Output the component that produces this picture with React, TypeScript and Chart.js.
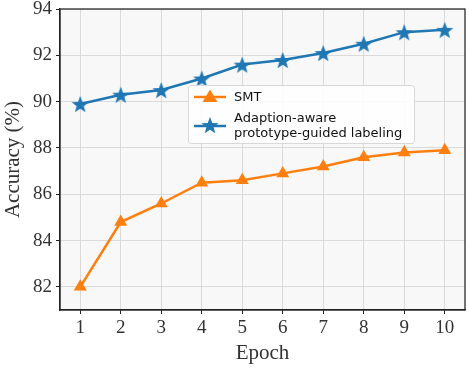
import React, { useEffect, useRef } from "react";
import { Chart, registerables } from "chart.js";

Chart.register(...registerables);

const epochs = ["1", "2", "3", "4", "5", "6", "7", "8", "9", "10"];
const smtValues = [82.0, 84.8, 85.6, 86.5, 86.6, 86.9, 87.2, 87.6, 87.8, 87.9];
const aaplValues = [89.9, 90.3, 90.5, 91.0, 91.6, 91.8, 92.1, 92.5, 93.0, 93.1];
const yTicks = [82, 84, 86, 88, 90, 92, 94];
const seriesNames = ["SMT", "Adaption-aware\nprototype-guided labeling"];

const ORANGE = "#ff7f0e";
const BLUE = "#1f77b4";
const SERIF = "'Liberation Serif', 'Times New Roman', serif";
const SANS = "'DejaVu Sans', sans-serif";

function starPath(cx: number, cy: number, ro: number, ri: number) {
  const pts: string[] = [];
  for (let i = 0; i < 10; i++) {
    const r = i % 2 === 0 ? ro : ri;
    const a = -Math.PI / 2 + (i * Math.PI) / 5;
    pts.push(`${(cx + r * Math.cos(a)).toFixed(2)},${(cy + r * Math.sin(a)).toFixed(2)}`);
  }
  return pts.join(" ");
}

function makeStar(size: number, color: string) {
  const c = document.createElement("canvas");
  c.width = size;
  c.height = size;
  const ctx = c.getContext("2d")!;
  const ro = size / 2;
  const ri = ro * 0.42;
  ctx.beginPath();
  for (let i = 0; i < 10; i++) {
    const r = i % 2 === 0 ? ro : ri;
    const a = -Math.PI / 2 + (i * Math.PI) / 5;
    const x = ro + r * Math.cos(a);
    const y = ro + 1 + r * Math.sin(a);
    if (i === 0) ctx.moveTo(x, y);
    else ctx.lineTo(x, y);
  }
  ctx.closePath();
  ctx.fillStyle = color;
  ctx.fill();
  return c;
}

const framePlugin = {
  id: "frame",
  beforeDraw(chart: any) {
    const { ctx, chartArea: a } = chart;
    ctx.save();
    ctx.fillStyle = "#f8f8f8";
    ctx.fillRect(a.left, a.top, a.right - a.left, a.bottom - a.top);
    ctx.restore();
  },
  afterDraw(chart: any) {
    const { ctx, chartArea: a } = chart;
    ctx.save();
    ctx.strokeStyle = "#222";
    ctx.lineWidth = 1.25;
    ctx.strokeRect(a.left, a.top, a.right - a.left, a.bottom - a.top);
    ctx.restore();
  },
};

function zeroPad(scale: any) {
  scale.paddingLeft = 0;
  scale.paddingRight = 0;
  scale.paddingTop = 0;
  scale.paddingBottom = 0;
}

const gridOpts = {
  color: "#d6d6d6",
  lineWidth: 0.9,
  borderDash: [3.5, 2],
  tickColor: "#222",
  tickLength: 4,
  tickWidth: 1,
  tickBorderDash: [],
};

export default function App() {
  const ref = useRef<HTMLCanvasElement>(null);

  useEffect(() => {
    const star = makeStar(18, BLUE);
    const chart = new Chart(ref.current!, {
      type: "line",
      data: {
        labels: epochs,
        datasets: [
          {
            label: "SMT",
            data: smtValues,
            borderColor: ORANGE,
            backgroundColor: ORANGE,
            borderWidth: 2.5,
            pointStyle: "triangle",
            pointRadius: 7.5,
            pointBorderWidth: 0,
            pointBackgroundColor: ORANGE,
          },
          {
            label: "Adaption-aware prototype-guided labeling",
            data: aaplValues,
            borderColor: BLUE,
            backgroundColor: BLUE,
            borderWidth: 2.5,
            pointStyle: star as any,
            pointRadius: 9,
          },
        ],
      },
      options: {
        animation: false,
        responsive: false,
        maintainAspectRatio: false,
        layout: { autoPadding: false, padding: { top: 9, right: 4, left: 0, bottom: 0 } },
        plugins: { legend: { display: false }, tooltip: { enabled: false } },
        scales: {
          x: {
            type: "category",
            offset: true,
            grid: { ...gridOpts, offset: false } as any,
            border: { color: "#222", width: 1.25 },
            ticks: { color: "#333", font: { family: SERIF, size: 19 }, padding: 3, maxRotation: 0 },
            title: {
              display: true,
              text: "Epoch",
              color: "#333",
              font: { family: SERIF, size: 21 },
              padding: { top: 0, bottom: 1 },
            },
            afterFit(scale: any) {
              scale.height = 57;
              zeroPad(scale);
            },
          },
          y: {
            type: "linear",
            min: 81,
            max: 94,
            afterBuildTicks(scale: any) {
              scale.ticks = yTicks.map((v) => ({ value: v }));
            },
            grid: { ...gridOpts } as any,
            border: { color: "#222", width: 1.25 },
            ticks: { color: "#333", font: { family: SERIF, size: 19 }, padding: 4 },
            title: {
              display: true,
              text: "Accuracy (%)",
              color: "#333",
              font: { family: SERIF, size: 21 },
              padding: { top: 1, bottom: 0 },
            },
            afterFit(scale: any) {
              scale.width = 60;
              zeroPad(scale);
            },
          },
        },
      },
      plugins: [framePlugin],
    });
    return () => chart.destroy();
  }, []);

  const lines = seriesNames[1].split("\n");

  return (
    <div style={{ position: "absolute", left: 0, top: 0, width: 469, height: 367, background: "#fff" }}>
      <canvas ref={ref} width={469} height={367} style={{ display: "block" }} />
      <div
        style={{
          position: "absolute",
          left: 188,
          top: 85,
          width: 227,
          height: 59,
          boxSizing: "border-box",
          background: "rgba(255,255,255,0.85)",
          border: "1px solid #d8d8d8",
          borderRadius: 3,
          fontFamily: SANS,
          fontSize: 13,
          color: "#111",
        }}
      >
        <svg width={40} height={57} style={{ position: "absolute", left: 2, top: 0 }}>
          <line x1={3} y1={11} x2={35} y2={11} stroke={ORANGE} strokeWidth={2.5} />
          <polygon points="19,3.5 26.5,16 11.5,16" fill={ORANGE} />
          <line x1={3} y1={40} x2={35} y2={40} stroke={BLUE} strokeWidth={2.5} />
          <polygon points={starPath(19, 40, 9, 3.8)} fill={BLUE} />
        </svg>
        <div style={{ position: "absolute", left: 45, top: 3, lineHeight: "16px", whiteSpace: "nowrap" }}>
          {seriesNames[0]}
        </div>
        <div style={{ position: "absolute", left: 45, top: 24, lineHeight: "15px", whiteSpace: "nowrap" }}>
          {lines[0]}
          <br />
          {lines[1]}
        </div>
      </div>
    </div>
  );
}
